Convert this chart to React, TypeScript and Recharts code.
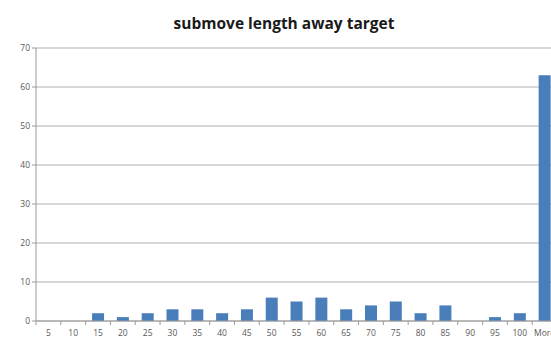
import { Bar, BarChart, CartesianGrid, XAxis, YAxis } from "recharts";

const bins = ["5", "10", "15", "20", "25", "30", "35", "40", "45", "50", "55", "60", "65", "70", "75", "80", "85", "90", "95", "100", "More"];
const frequency = [0, 0, 2, 1, 2, 3, 3, 2, 3, 6, 5, 6, 3, 4, 5, 2, 4, 0, 1, 2, 63];
const yTicks = [0, 10, 20, 30, 40, 50, 60, 70];

const data = bins.map((bin, i) => ({ bin, frequency: frequency[i] }));

const BAND = 24.8;

// category label at the center, tick mark on the left band boundary (Excel style)
function BinTick(props: any) {
  const { x, y, payload } = props;
  return (
    <g>
      <line x1={x - BAND / 2} x2={x - BAND / 2} y1={y - 8} y2={y - 4} stroke="#9a9a9a" />
      <text x={x} y={y + 7} textAnchor="middle" fill="#595959" fontSize={8.5} fontFamily="Open Sans, sans-serif">
        {payload.value}
      </text>
    </g>
  );
}

export default function App() {
  return (
    <div style={{ position: "absolute", left: 0, top: 0, width: 551, height: 343, overflow: "hidden", background: "#fff" }}>
      <div
        style={{
          position: "absolute",
          left: 0,
          top: 12,
          width: 568,
          textAlign: "center",
          fontFamily: "Open Sans, sans-serif",
          fontWeight: 700,
          fontSize: 15.5,
          color: "#1a1a1a",
        }}
      >
        submove length away target
      </div>
      <BarChart
        width={560}
        height={343}
        data={data}
        margin={{ top: 48, right: 3, left: 0, bottom: 4 }}
        barCategoryGap="26%"
      >
        <CartesianGrid vertical={false} stroke="#b0b0b0" />
        <XAxis
          dataKey="bin"
          interval={0}
          tickLine={false}
          axisLine={{ stroke: "#9a9a9a" }}
          tick={<BinTick />}
          height={18}
        />
        <YAxis
          domain={[0, 70]}
          ticks={yTicks}
          width={36}
          axisLine={{ stroke: "#9a9a9a" }}
          tickLine={{ stroke: "#9a9a9a" }}
          tickSize={4}
          tick={{ fill: "#595959", fontSize: 8.5, fontFamily: "Open Sans, sans-serif" }}
        />
        <Bar dataKey="frequency" fill="#4a7ebb" isAnimationActive={false} />
      </BarChart>
    </div>
  );
}
